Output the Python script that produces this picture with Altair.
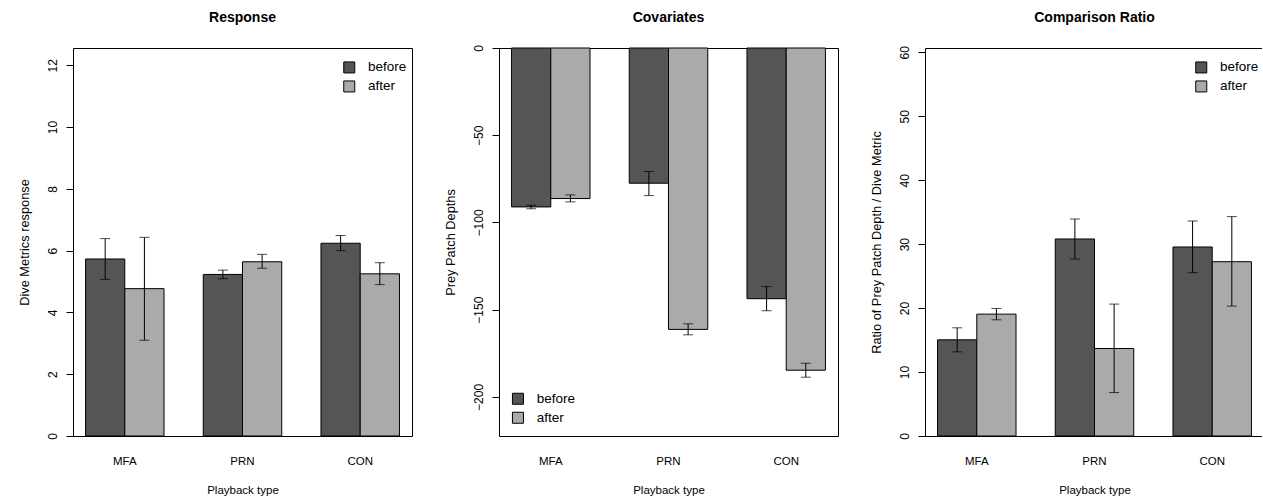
import altair as alt
import pandas as pd

types = ["MFA", "PRN", "CON"]
periods = ["before", "after"]

resp_before = [5.73, 5.23, 6.24]
resp_after = [4.77, 5.64, 5.25]
resp_before_lo = [5.07, 5.09, 6.00]
resp_before_hi = [6.39, 5.37, 6.49]
resp_after_lo = [3.10, 5.43, 4.90]
resp_after_hi = [6.43, 5.88, 5.61]

cov_before = [-91.1, -77.5, -143.7]
cov_after = [-86.3, -161.3, -184.7]
cov_before_lo = [-92.2, -84.6, -150.6]
cov_before_hi = [-90.1, -70.8, -136.7]
cov_after_lo = [-88.2, -164.4, -188.7]
cov_after_hi = [-84.2, -158.1, -180.7]

ratio_before = [15.04, 30.81, 29.56]
ratio_after = [19.06, 13.68, 27.26]
ratio_before_lo = [13.16, 27.68, 25.54]
ratio_before_hi = [16.92, 33.94, 33.63]
ratio_after_lo = [18.17, 6.79, 20.31]
ratio_after_hi = [19.95, 20.63, 34.31]

FONT = "Liberation Sans"
W, H = 339, 388


def make_df(b, a, blo, bhi, alo, ahi):
    rows = []
    for i, t in enumerate(types):
        rows.append({"type": t, "period": "before", "value": b[i], "lo": blo[i], "hi": bhi[i]})
        rows.append({"type": t, "period": "after", "value": a[i], "lo": alo[i], "hi": ahi[i]})
    return pd.DataFrame(rows)


def panel(df, title, ytitle, domain, ticks, lx, ly, toff):
    xaxis = alt.Axis(title="Playback type", domain=False, ticks=False, tickSize=0,
                     labelPadding=19, labelAngle=0, labelFontSize=11.5, labelFont=FONT,
                     labelColor="black", titleFont=FONT, titleFontSize=11.5,
                     titleFontWeight="normal", titleColor="black", titleX=W / 2,
                     titleY=54.5, titleBaseline="middle", titleAlign="center")
    yaxis = alt.Axis(title=ytitle, values=ticks, domain=False, grid=False, ticks=True,
                     tickSize=7, tickColor="black", tickWidth=1, labelAngle=270,
                     labelAlign="center", labelBaseline="bottom", labelPadding=7,
                     labelFontSize=12, labelFont=FONT, labelColor="black",
                     labelOverlap=False, titleFont=FONT, titleFontSize=12.8,
                     titleFontWeight="normal", titleColor="black", titleAngle=270,
                     titleX=-49, titleY=H / 2, titleBaseline="middle",
                     titleAlign="center")
    xscale = alt.Scale(paddingInner=1 / 3, paddingOuter=0.1067)
    yscale = alt.Scale(domain=domain, nice=False, zero=False)
    base = alt.Chart(df).encode(
        x=alt.X("type:N", sort=types, scale=xscale, axis=xaxis),
        xOffset=alt.XOffset("period:N", sort=periods,
                            scale=alt.Scale(paddingInner=0, paddingOuter=0)),
    )
    bars = base.mark_bar(stroke="black", strokeWidth=1).encode(
        y=alt.Y("value:Q", scale=yscale, axis=yaxis),
        color=alt.Color(
            "period:N",
            scale=alt.Scale(domain=periods, range=["#555555", "#aaaaaa"]),
            legend=alt.Legend(title=None, orient="none", legendX=lx, legendY=ly,
                              symbolType="square", symbolSize=121,
                              symbolStrokeColor="black", symbolStrokeWidth=1,
                              labelFontSize=13.5, labelFont=FONT, labelColor="black",
                              labelOffset=12, rowPadding=3, padding=0),
        ),
    )
    rules = base.mark_rule(color="black", strokeWidth=1).encode(
        y=alt.Y("lo:Q", scale=yscale, axis=yaxis), y2="hi:Q")
    cap_lo = base.mark_tick(color="black", size=10, thickness=1, orient="horizontal").encode(
        y=alt.Y("lo:Q", scale=yscale, axis=yaxis))
    cap_hi = base.mark_tick(color="black", size=10, thickness=1, orient="horizontal").encode(
        y=alt.Y("hi:Q", scale=yscale, axis=yaxis))
    return alt.layer(bars, rules, cap_lo, cap_hi).properties(
        width=W, height=H,
        title=alt.TitleParams(title, fontSize=14, font=FONT, fontWeight="bold",
                              color="black", anchor="middle", frame="group", offset=toff),
    )


p1 = panel(make_df(resp_before, resp_after, resp_before_lo, resp_before_hi,
                   resp_after_lo, resp_after_hi),
           "Response", "Dive Metrics response", [0, 12.56],
           [0, 2, 4, 6, 8, 10, 12], 269.5, 12.7, 23)
p2 = panel(make_df(cov_before, cov_after, cov_before_lo, cov_before_hi,
                   cov_after_lo, cov_after_hi),
           "Covariates", "Prey Patch Depths", [-222.4, 0],
           [0, -50, -100, -150, -200], 12.2, 344, 19.7)
p3 = panel(make_df(ratio_before, ratio_after, ratio_before_lo, ratio_before_hi,
                   ratio_after_lo, ratio_after_hi),
           "Comparison Ratio", "Ratio of Prey Patch Depth / Dive Metric", [0, 60.68],
           [0, 10, 20, 30, 40, 50, 60], 269.5, 12.7, 20.6)

chart = alt.hconcat(p1, p2, p3, spacing=87, bounds="flush").resolve_legend(
    color="independent"
).properties(
    padding={"left": 17, "top": 10, "right": -3, "bottom": 0},
    background="white",
).configure_view(stroke="black", strokeWidth=1)

chart.save("out.html", embed_options={"renderer": "svg", "actions": False})
